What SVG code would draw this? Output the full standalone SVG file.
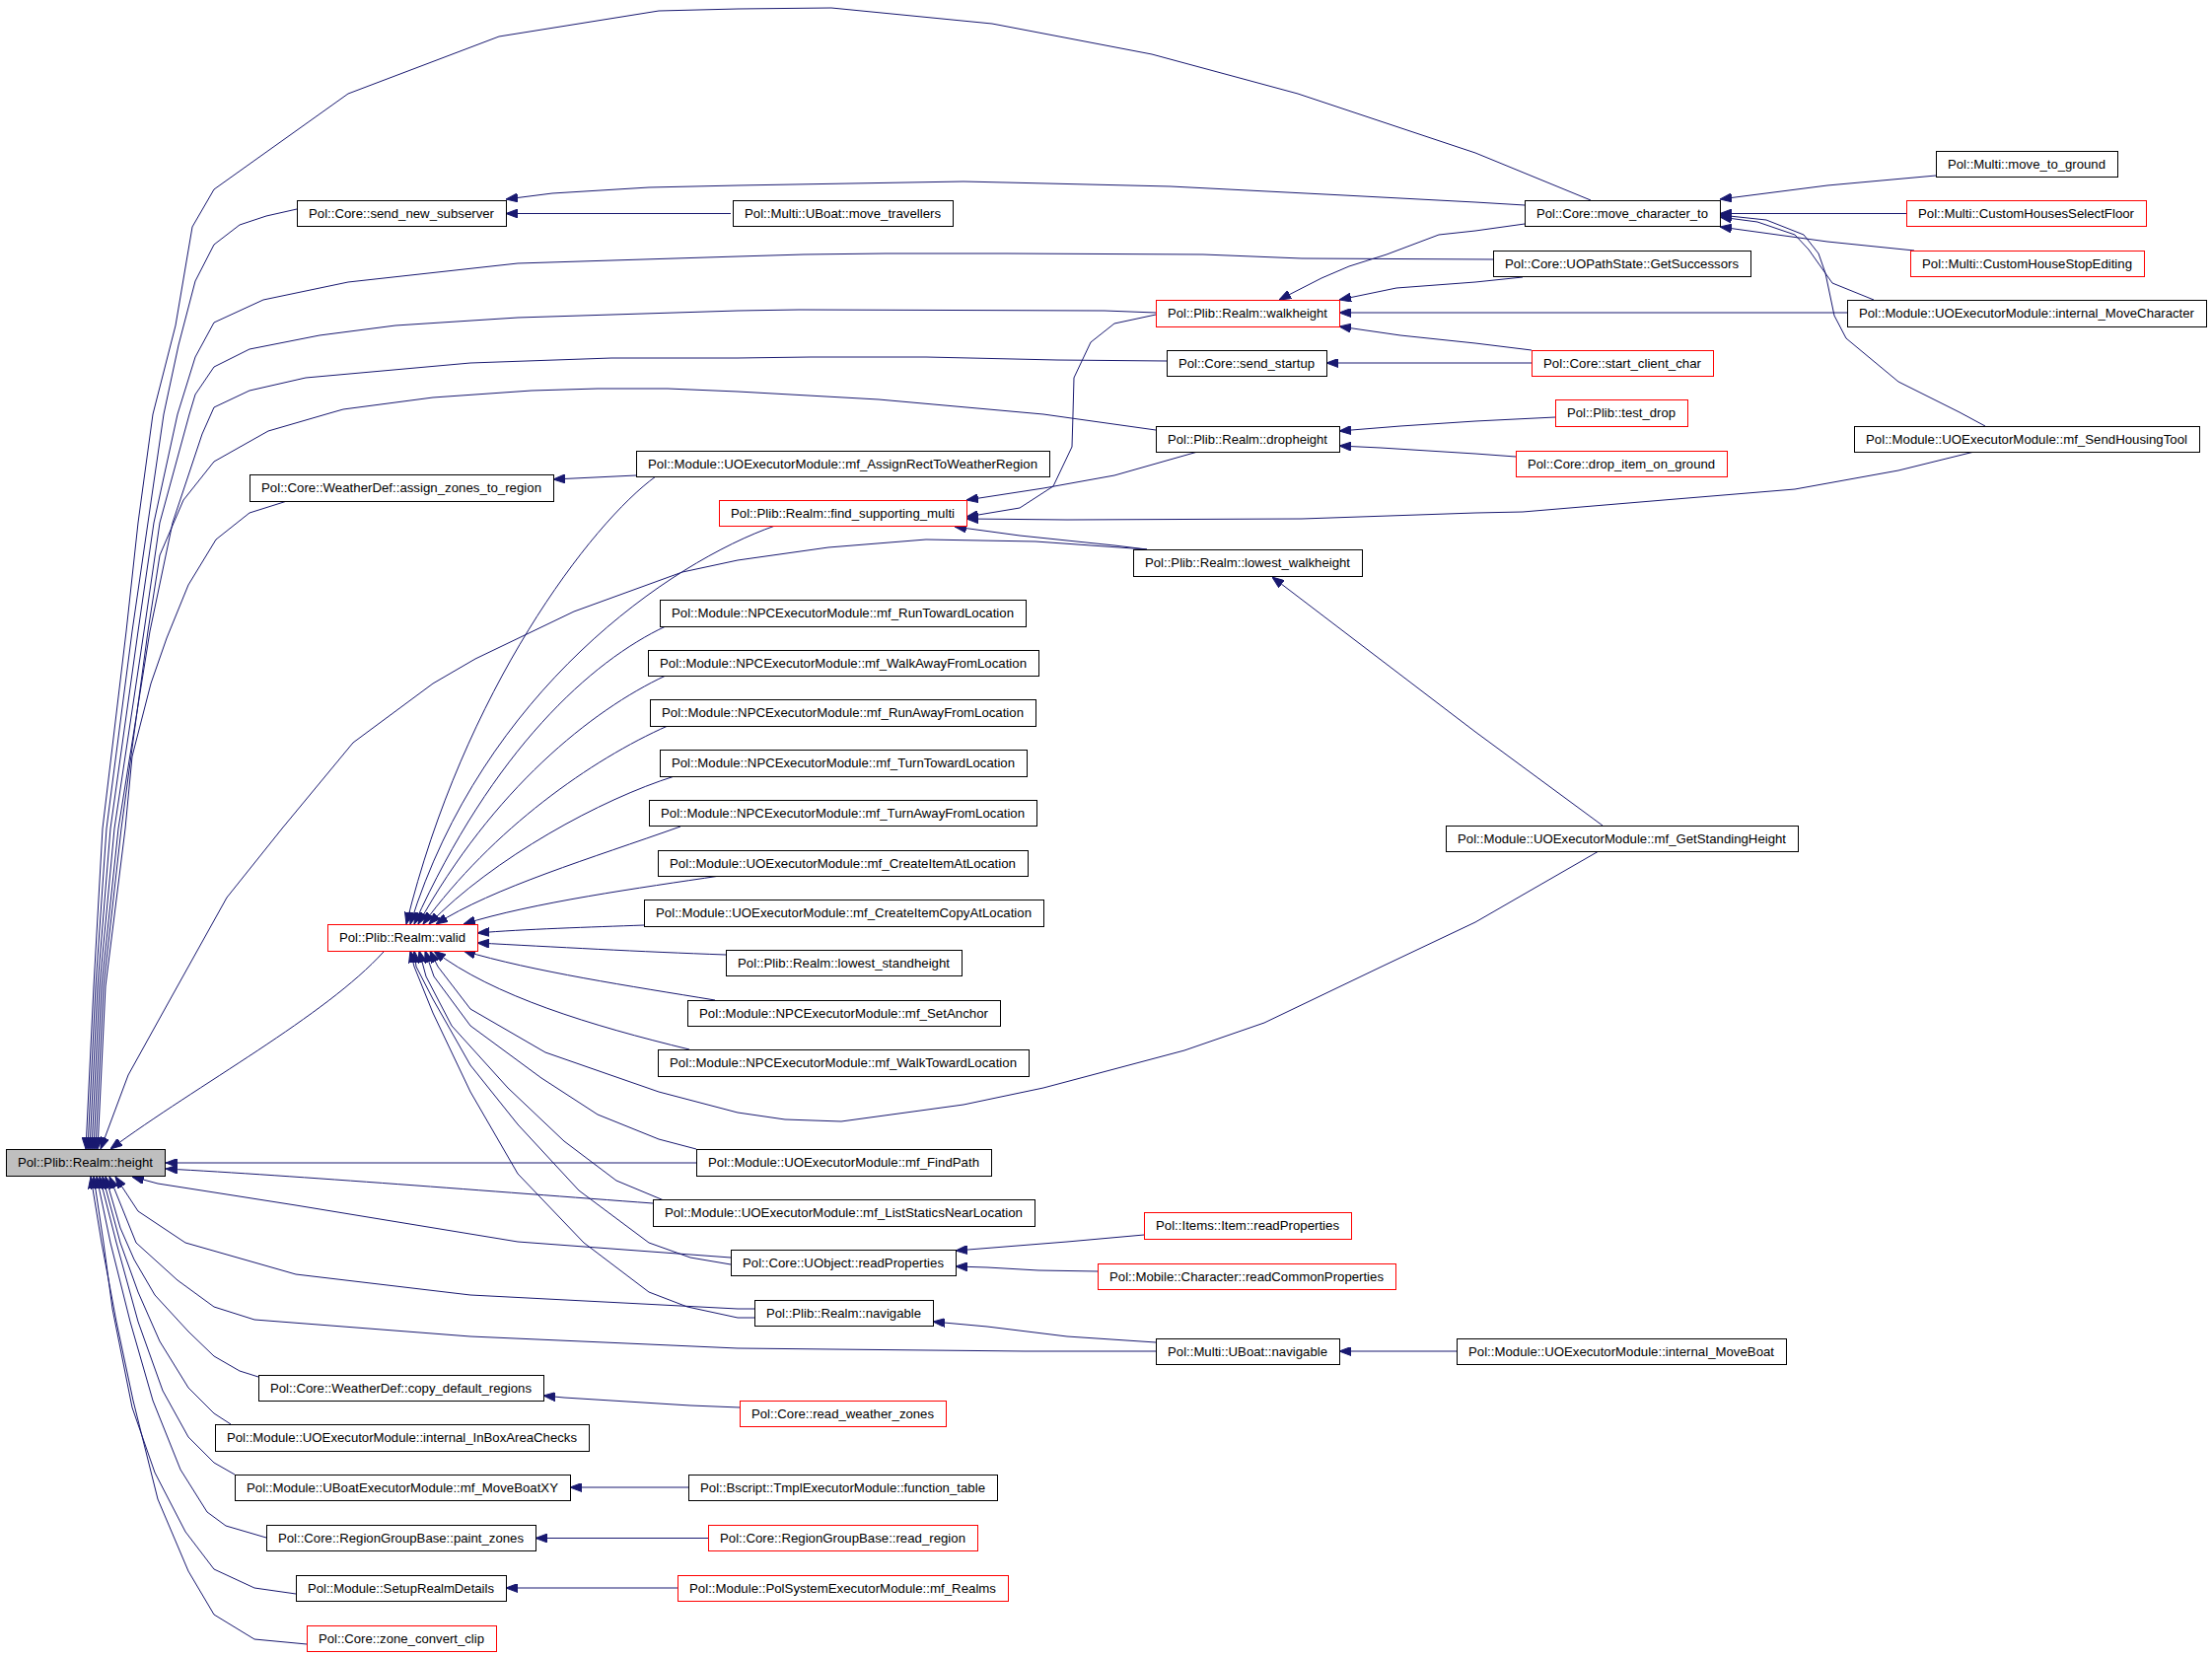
<svg xmlns="http://www.w3.org/2000/svg" width="2243" height="1679" viewBox="0 0 2243 1679">
<style>
.e{fill:none;stroke:#191970;stroke-width:1;stroke-linejoin:round;marker-end:url(#ah)}
.node rect{fill:#fff;stroke:#000;stroke-width:1}
.node.red rect{stroke:#ff0000}
.node.root rect{fill:#bfbfbf}
.node text{font-family:"Liberation Sans",Arial,Helvetica,sans-serif;font-size:13px;fill:#000;text-anchor:middle}
</style>
<defs>
<marker id="ah" viewBox="0 0 12 9" refX="12" refY="4.5" markerWidth="12" markerHeight="9" markerUnits="userSpaceOnUse" orient="auto">
<path d="M0,0 L12,4.5 L0,9 z" fill="#191970" stroke="#191970" stroke-width="1"/>
</marker>
</defs>
<rect width="2243" height="1679" fill="#fff"/>
<g id="connectors">
<path class="e" d="M1613,203 L1496,155 L1316,95 L1168,55 L1006,24 L843,8 L748,9 L668,11 L506,37 L353,95 L217,192 L195,230 L178,330 L155,420 L140,530 L128,640 L104,840 L95,1000 L87,1165"/>
<path class="e" d="M301,212 L270,219 L243,228 L217,248 L198,285 L181,350 L166,420 L150,530 L134,640 L108,840 L97,1000 L89,1165"/>
<path class="e" d="M1514,263 L1320,262 L1220,258 L1020,257 L898,257 L815,258 L748,260 L525,267 L353,286 L267,304 L217,327 L198,362 L180,420 L156,530 L140,640 L112,840 L99,1000 L91,1165"/>
<path class="e" d="M1172,317 L1120,315 L810,314 L748,315 L525,322 L401,330 L324,340 L253,354 L217,372 L198,400 L192,420 L162,530 L146,640 L116,840 L101,1000 L93,1165"/>
<path class="e" d="M1183,366 L1072,365 L939,362 L822,362 L748,363 L620,363 L477,368 L310,383 L253,396 L217,413 L205,440 L175,530 L152,640 L120,840 L103,1000 L95,1165"/>
<path class="e" d="M1172,436 L1058,420 L891,405 L748,397 L677,394 L606,394 L539,396 L439,403 L348,415 L334,419 L272,437 L217,468 L186,507 L162,563 L150,640 L123,840 L105,1000 L97,1165"/>
<path class="e" d="M291,508 L253,520 L219,547 L191,593 L169,647 L153,693 L134,767 L127,840 L107,1000 L99,1165"/>
<path class="e" d="M1163,557 L1050,549 L939,547 L840,555 L748,568 L692,580 L582,620 L482,668 L439,693 L358,753 L286,840 L230,910 L176,1007 L130,1090 L102,1165"/>
<path class="e" d="M389,965 C330,1030 200,1100 112,1165"/>
<path class="e" d="M706,1179 L168,1179"/>
<path class="e" d="M662,1220 C500,1208 300,1192 168,1185"/>
<path class="e" d="M741,1275 L525,1259 L300,1222 L160,1200 L134,1193"/>
<path class="e" d="M765,1327 L748,1327 L477,1313 L300,1292 L188,1260 L140,1228 L117,1193"/>
<path class="e" d="M1172,1370 L1039,1370 L843,1368 L748,1367 L477,1355 L258,1338 L217,1325 L180,1298 L138,1260 L111,1193"/>
<path class="e" d="M262,1396 L243,1390 L217,1375 L191,1350 L157,1313 L136,1277 L122,1245 L107,1193"/>
<path class="e" d="M234,1444 L217,1433 L191,1407 L162,1360 L140,1310 L122,1260 L104,1193"/>
<path class="e" d="M238,1495 L217,1483 L191,1457 L165,1410 L140,1340 L118,1260 L101,1193"/>
<path class="e" d="M270,1559 L229,1547 L210,1533 L183,1490 L155,1420 L132,1340 L112,1260 L98,1193"/>
<path class="e" d="M300,1616 L258,1610 L217,1591 L188,1553 L157,1493 L134,1427 L114,1327 L105,1260 L95,1193"/>
<path class="e" d="M311,1667 L258,1662 L217,1637 L191,1593 L160,1520 L135,1420 L118,1340 L103,1260 L92,1193"/>
<path class="e" d="M741,216.5 L513,216.5"/>
<path class="e" d="M1546,208 L1496,205 L1363,198 L1187,189 L977,184 L748,188 L658,190 L560,196 L513,202"/>
<path class="e" d="M1963,178 L1853,188 L1744,202"/>
<path class="e" d="M1933,216.5 L1744,216.5"/>
<path class="e" d="M1941,254 L1853,245 L1744,230"/>
<path class="e" d="M1900,304 L1858,287 L1834,253 L1820,238 L1782,225 L1744,220"/>
<path class="e" d="M2013,432 L1987,418 L1925,387 L1872,343 L1860,320 L1851,277 L1844,257 L1829,238 L1791,223 L1744,218"/>
<path class="e" d="M1546,227 L1496,234 L1459,238 L1406,258 L1368,270 L1340,282 L1297,304"/>
<path class="e" d="M1544,281 L1496,286 L1416,292 L1358,304"/>
<path class="e" d="M1873,317 L1358,317"/>
<path class="e" d="M1553,355 L1496,348 L1420,340 L1358,331"/>
<path class="e" d="M1553,368 L1345,368"/>
<path class="e" d="M1577,423 L1496,427 L1420,432 L1358,437"/>
<path class="e" d="M1537,463 L1496,460 L1400,454 L1358,452"/>
<path class="e" d="M2006,457 L1925,477 L1820,496 L1687,507 L1544,519 L1496,520 L1320,526 L1082,527 L980,526"/>
<path class="e" d="M1172,319 L1130,328 L1106,347 L1089,383 L1088,420 L1087,453 L1068,493 L1034,515 L980,524"/>
<path class="e" d="M1218,457 L1130,482 L1058,495 L980,507"/>
<path class="e" d="M1163,557 L1130,553 L1034,543 L968,534"/>
<path class="e" d="M1625,837 L1496,742 L1290,585"/>
<path class="e" d="M645,482 L561,486"/>
<path class="e" d="M1160,1252 L1082,1259 L969,1268"/>
<path class="e" d="M1113,1289 L1053,1288 L1001,1285 L969,1284"/>
<path class="e" d="M1172,1361 L1082,1355 L1001,1345 L946,1340"/>
<path class="e" d="M1477,1370 L1358,1370"/>
<path class="e" d="M750,1427 L700,1425 L572,1417 L551,1415"/>
<path class="e" d="M698,1508 L578,1508"/>
<path class="e" d="M718,1559.5 L543,1559.5"/>
<path class="e" d="M687,1610 L513,1610"/>
<path class="e" d="M665,483 C600,530 470,700 412,937"/>
<path class="e" d="M786,533 C680,570 490,700 416,937"/>
<path class="e" d="M675,635 C600,670 500,760 420,937"/>
<path class="e" d="M675,685 C600,720 500,800 424,937"/>
<path class="e" d="M677,736 C600,770 500,840 429,937"/>
<path class="e" d="M684,787 C610,810 500,870 435,937"/>
<path class="e" d="M690,838 C600,870 500,900 442,937"/>
<path class="e" d="M730,888 C650,900 540,915 470,937"/>
<path class="e" d="M653,938 C600,940 530,942 484,946"/>
<path class="e" d="M736,968 C650,965 560,960 484,956"/>
<path class="e" d="M725,1014 C640,1000 540,985 470,964"/>
<path class="e" d="M699,1064 C600,1040 500,1010 440,964"/>
<path class="e" d="M1621,863 L1496,935 L1401,980 L1282,1037 L1201,1065 L1058,1103 L977,1120 L853,1137 L796,1135 L748,1128 L668,1107 L553,1067 L477,1023 L444,980 L436,964"/>
<path class="e" d="M706,1165 L668,1155 L606,1130 L549,1093 L477,1040 L440,990 L431,964"/>
<path class="e" d="M673,1217 L625,1197 L572,1157 L515,1103 L458,1040 L432,990 L425,964"/>
<path class="e" d="M741,1282 L700,1275 L658,1260 L587,1207 L525,1140 L477,1080 L439,1013 L422,980 L420,964"/>
<path class="e" d="M765,1336 L748,1336 L697,1325 L658,1310 L592,1260 L525,1190 L477,1107 L439,1027 L420,980 L416,964"/>
</g>
<g id="n_height" class="node root"><rect x="6.5" y="1165.5" width="161" height="27"/><text x="86.5" y="1183" textLength="137" lengthAdjust="spacingAndGlyphs">Pol::Plib::Realm::height</text></g>
<g id="n_send_new_subserver" class="node"><rect x="301.5" y="203.5" width="212" height="26"/><text x="407" y="221" textLength="188" lengthAdjust="spacingAndGlyphs">Pol::Core::send_new_subserver</text></g>
<g id="n_move_travellers" class="node"><rect x="743.5" y="203.5" width="223" height="26"/><text x="854.5" y="221" textLength="199" lengthAdjust="spacingAndGlyphs">Pol::Multi::UBoat::move_travellers</text></g>
<g id="n_move_character_to" class="node"><rect x="1546.5" y="203.5" width="198" height="26"/><text x="1645" y="221" textLength="174" lengthAdjust="spacingAndGlyphs">Pol::Core::move_character_to</text></g>
<g id="n_move_to_ground" class="node"><rect x="1963.5" y="153.5" width="184" height="26"/><text x="2055" y="171" textLength="160" lengthAdjust="spacingAndGlyphs">Pol::Multi::move_to_ground</text></g>
<g id="n_CustomHousesSelectFloor" class="node red"><rect x="1933.5" y="203.5" width="243" height="26"/><text x="2054.5" y="221" textLength="219" lengthAdjust="spacingAndGlyphs">Pol::Multi::CustomHousesSelectFloor</text></g>
<g id="n_GetSuccessors" class="node"><rect x="1514.5" y="254.5" width="261" height="26"/><text x="1644.5" y="272" textLength="237" lengthAdjust="spacingAndGlyphs">Pol::Core::UOPathState::GetSuccessors</text></g>
<g id="n_CustomHouseStopEditing" class="node red"><rect x="1937.5" y="254.5" width="237" height="26"/><text x="2055.5" y="272" textLength="213" lengthAdjust="spacingAndGlyphs">Pol::Multi::CustomHouseStopEditing</text></g>
<g id="n_walkheight" class="node red"><rect x="1172.5" y="304.5" width="186" height="27"/><text x="1265" y="322" textLength="162" lengthAdjust="spacingAndGlyphs">Pol::Plib::Realm::walkheight</text></g>
<g id="n_internal_MoveCharacter" class="node"><rect x="1873.5" y="304.5" width="364" height="27"/><text x="2055" y="322" textLength="340" lengthAdjust="spacingAndGlyphs">Pol::Module::UOExecutorModule::internal_MoveCharacter</text></g>
<g id="n_send_startup" class="node"><rect x="1183.5" y="355.5" width="162" height="26"/><text x="1264" y="373" textLength="138" lengthAdjust="spacingAndGlyphs">Pol::Core::send_startup</text></g>
<g id="n_start_client_char" class="node red"><rect x="1553.5" y="355.5" width="184" height="26"/><text x="1645" y="373" textLength="160" lengthAdjust="spacingAndGlyphs">Pol::Core::start_client_char</text></g>
<g id="n_dropheight" class="node"><rect x="1172.5" y="432.5" width="186" height="26"/><text x="1265" y="450" textLength="162" lengthAdjust="spacingAndGlyphs">Pol::Plib::Realm::dropheight</text></g>
<g id="n_test_drop" class="node red"><rect x="1577.5" y="405.5" width="134" height="27"/><text x="1644" y="423" textLength="110" lengthAdjust="spacingAndGlyphs">Pol::Plib::test_drop</text></g>
<g id="n_drop_item_on_ground" class="node red"><rect x="1537.5" y="457.5" width="214" height="26"/><text x="1644" y="475" textLength="190" lengthAdjust="spacingAndGlyphs">Pol::Core::drop_item_on_ground</text></g>
<g id="n_mf_SendHousingTool" class="node"><rect x="1880.5" y="432.5" width="350" height="26"/><text x="2055" y="450" textLength="326" lengthAdjust="spacingAndGlyphs">Pol::Module::UOExecutorModule::mf_SendHousingTool</text></g>
<g id="n_assign_zones_to_region" class="node"><rect x="253.5" y="481.5" width="308" height="27"/><text x="407" y="499" textLength="284" lengthAdjust="spacingAndGlyphs">Pol::Core::WeatherDef::assign_zones_to_region</text></g>
<g id="n_mf_AssignRectToWeatherRegion" class="node"><rect x="645.5" y="457.5" width="419" height="26"/><text x="854.5" y="475" textLength="395" lengthAdjust="spacingAndGlyphs">Pol::Module::UOExecutorModule::mf_AssignRectToWeatherRegion</text></g>
<g id="n_find_supporting_multi" class="node red"><rect x="729.5" y="507.5" width="251" height="26"/><text x="854.5" y="525" textLength="227" lengthAdjust="spacingAndGlyphs">Pol::Plib::Realm::find_supporting_multi</text></g>
<g id="n_lowest_walkheight" class="node"><rect x="1149.5" y="557.5" width="232" height="27"/><text x="1265" y="575" textLength="208" lengthAdjust="spacingAndGlyphs">Pol::Plib::Realm::lowest_walkheight</text></g>
<g id="n_mf_RunTowardLocation" class="node"><rect x="669.5" y="608.5" width="371" height="27"/><text x="854.5" y="626" textLength="347" lengthAdjust="spacingAndGlyphs">Pol::Module::NPCExecutorModule::mf_RunTowardLocation</text></g>
<g id="n_mf_WalkAwayFromLocation" class="node"><rect x="657.5" y="659.5" width="396" height="26"/><text x="855" y="677" textLength="372" lengthAdjust="spacingAndGlyphs">Pol::Module::NPCExecutorModule::mf_WalkAwayFromLocation</text></g>
<g id="n_mf_RunAwayFromLocation" class="node"><rect x="659.5" y="709.5" width="391" height="27"/><text x="854.5" y="727" textLength="367" lengthAdjust="spacingAndGlyphs">Pol::Module::NPCExecutorModule::mf_RunAwayFromLocation</text></g>
<g id="n_mf_TurnTowardLocation" class="node"><rect x="669.5" y="760.5" width="372" height="27"/><text x="855" y="778" textLength="348" lengthAdjust="spacingAndGlyphs">Pol::Module::NPCExecutorModule::mf_TurnTowardLocation</text></g>
<g id="n_mf_TurnAwayFromLocation" class="node"><rect x="658.5" y="811.5" width="393" height="26"/><text x="854.5" y="829" textLength="369" lengthAdjust="spacingAndGlyphs">Pol::Module::NPCExecutorModule::mf_TurnAwayFromLocation</text></g>
<g id="n_mf_GetStandingHeight" class="node"><rect x="1466.5" y="837.5" width="357" height="26"/><text x="1644.5" y="855" textLength="333" lengthAdjust="spacingAndGlyphs">Pol::Module::UOExecutorModule::mf_GetStandingHeight</text></g>
<g id="n_mf_CreateItemAtLocation" class="node"><rect x="667.5" y="862.5" width="375" height="26"/><text x="854.5" y="880" textLength="351" lengthAdjust="spacingAndGlyphs">Pol::Module::UOExecutorModule::mf_CreateItemAtLocation</text></g>
<g id="n_mf_CreateItemCopyAtLocation" class="node"><rect x="653.5" y="912.5" width="405" height="27"/><text x="855.5" y="930" textLength="381" lengthAdjust="spacingAndGlyphs">Pol::Module::UOExecutorModule::mf_CreateItemCopyAtLocation</text></g>
<g id="n_valid" class="node red"><rect x="332.5" y="937.5" width="152" height="27"/><text x="408" y="955" textLength="128" lengthAdjust="spacingAndGlyphs">Pol::Plib::Realm::valid</text></g>
<g id="n_lowest_standheight" class="node"><rect x="736.5" y="963.5" width="239" height="26"/><text x="855.5" y="981" textLength="215" lengthAdjust="spacingAndGlyphs">Pol::Plib::Realm::lowest_standheight</text></g>
<g id="n_mf_SetAnchor" class="node"><rect x="697.5" y="1014.5" width="317" height="26"/><text x="855.5" y="1032" textLength="293" lengthAdjust="spacingAndGlyphs">Pol::Module::NPCExecutorModule::mf_SetAnchor</text></g>
<g id="n_mf_WalkTowardLocation" class="node"><rect x="667.5" y="1064.5" width="376" height="27"/><text x="855" y="1082" textLength="352" lengthAdjust="spacingAndGlyphs">Pol::Module::NPCExecutorModule::mf_WalkTowardLocation</text></g>
<g id="n_mf_FindPath" class="node"><rect x="706.5" y="1165.5" width="299" height="27"/><text x="855.5" y="1183" textLength="275" lengthAdjust="spacingAndGlyphs">Pol::Module::UOExecutorModule::mf_FindPath</text></g>
<g id="n_mf_ListStaticsNearLocation" class="node"><rect x="662.5" y="1216.5" width="387" height="27"/><text x="855.5" y="1234" textLength="363" lengthAdjust="spacingAndGlyphs">Pol::Module::UOExecutorModule::mf_ListStaticsNearLocation</text></g>
<g id="n_Item_readProperties" class="node red"><rect x="1160.5" y="1229.5" width="210" height="27"/><text x="1265" y="1247" textLength="186" lengthAdjust="spacingAndGlyphs">Pol::Items::Item::readProperties</text></g>
<g id="n_UObject_readProperties" class="node"><rect x="741.5" y="1267.5" width="228" height="26"/><text x="855" y="1285" textLength="204" lengthAdjust="spacingAndGlyphs">Pol::Core::UObject::readProperties</text></g>
<g id="n_readCommonProperties" class="node red"><rect x="1113.5" y="1281.5" width="302" height="26"/><text x="1264" y="1299" textLength="278" lengthAdjust="spacingAndGlyphs">Pol::Mobile::Character::readCommonProperties</text></g>
<g id="n_navigable" class="node"><rect x="765.5" y="1318.5" width="181" height="26"/><text x="855.5" y="1336" textLength="157" lengthAdjust="spacingAndGlyphs">Pol::Plib::Realm::navigable</text></g>
<g id="n_UBoat_navigable" class="node"><rect x="1172.5" y="1357.5" width="186" height="26"/><text x="1265" y="1375" textLength="162" lengthAdjust="spacingAndGlyphs">Pol::Multi::UBoat::navigable</text></g>
<g id="n_internal_MoveBoat" class="node"><rect x="1477.5" y="1357.5" width="334" height="26"/><text x="1644" y="1375" textLength="310" lengthAdjust="spacingAndGlyphs">Pol::Module::UOExecutorModule::internal_MoveBoat</text></g>
<g id="n_copy_default_regions" class="node"><rect x="262.5" y="1394.5" width="289" height="26"/><text x="406.5" y="1412" textLength="265" lengthAdjust="spacingAndGlyphs">Pol::Core::WeatherDef::copy_default_regions</text></g>
<g id="n_read_weather_zones" class="node red"><rect x="750.5" y="1420.5" width="209" height="26"/><text x="854.5" y="1438" textLength="185" lengthAdjust="spacingAndGlyphs">Pol::Core::read_weather_zones</text></g>
<g id="n_internal_InBoxAreaChecks" class="node"><rect x="218.5" y="1444.5" width="379" height="27"/><text x="407.5" y="1462" textLength="355" lengthAdjust="spacingAndGlyphs">Pol::Module::UOExecutorModule::internal_InBoxAreaChecks</text></g>
<g id="n_mf_MoveBoatXY" class="node"><rect x="238.5" y="1495.5" width="340" height="26"/><text x="408" y="1513" textLength="316" lengthAdjust="spacingAndGlyphs">Pol::Module::UBoatExecutorModule::mf_MoveBoatXY</text></g>
<g id="n_function_table" class="node"><rect x="698.5" y="1495.5" width="313" height="26"/><text x="854.5" y="1513" textLength="289" lengthAdjust="spacingAndGlyphs">Pol::Bscript::TmplExecutorModule::function_table</text></g>
<g id="n_paint_zones" class="node"><rect x="270.5" y="1546.5" width="273" height="26"/><text x="406.5" y="1564" textLength="249" lengthAdjust="spacingAndGlyphs">Pol::Core::RegionGroupBase::paint_zones</text></g>
<g id="n_read_region" class="node red"><rect x="718.5" y="1546.5" width="273" height="26"/><text x="854.5" y="1564" textLength="249" lengthAdjust="spacingAndGlyphs">Pol::Core::RegionGroupBase::read_region</text></g>
<g id="n_SetupRealmDetails" class="node"><rect x="300.5" y="1597.5" width="213" height="26"/><text x="406.5" y="1615" textLength="189" lengthAdjust="spacingAndGlyphs">Pol::Module::SetupRealmDetails</text></g>
<g id="n_mf_Realms" class="node red"><rect x="687.5" y="1597.5" width="335" height="26"/><text x="854.5" y="1615" textLength="311" lengthAdjust="spacingAndGlyphs">Pol::Module::PolSystemExecutorModule::mf_Realms</text></g>
<g id="n_zone_convert_clip" class="node red"><rect x="311.5" y="1648.5" width="192" height="26"/><text x="407" y="1666" textLength="168" lengthAdjust="spacingAndGlyphs">Pol::Core::zone_convert_clip</text></g>
</svg>
